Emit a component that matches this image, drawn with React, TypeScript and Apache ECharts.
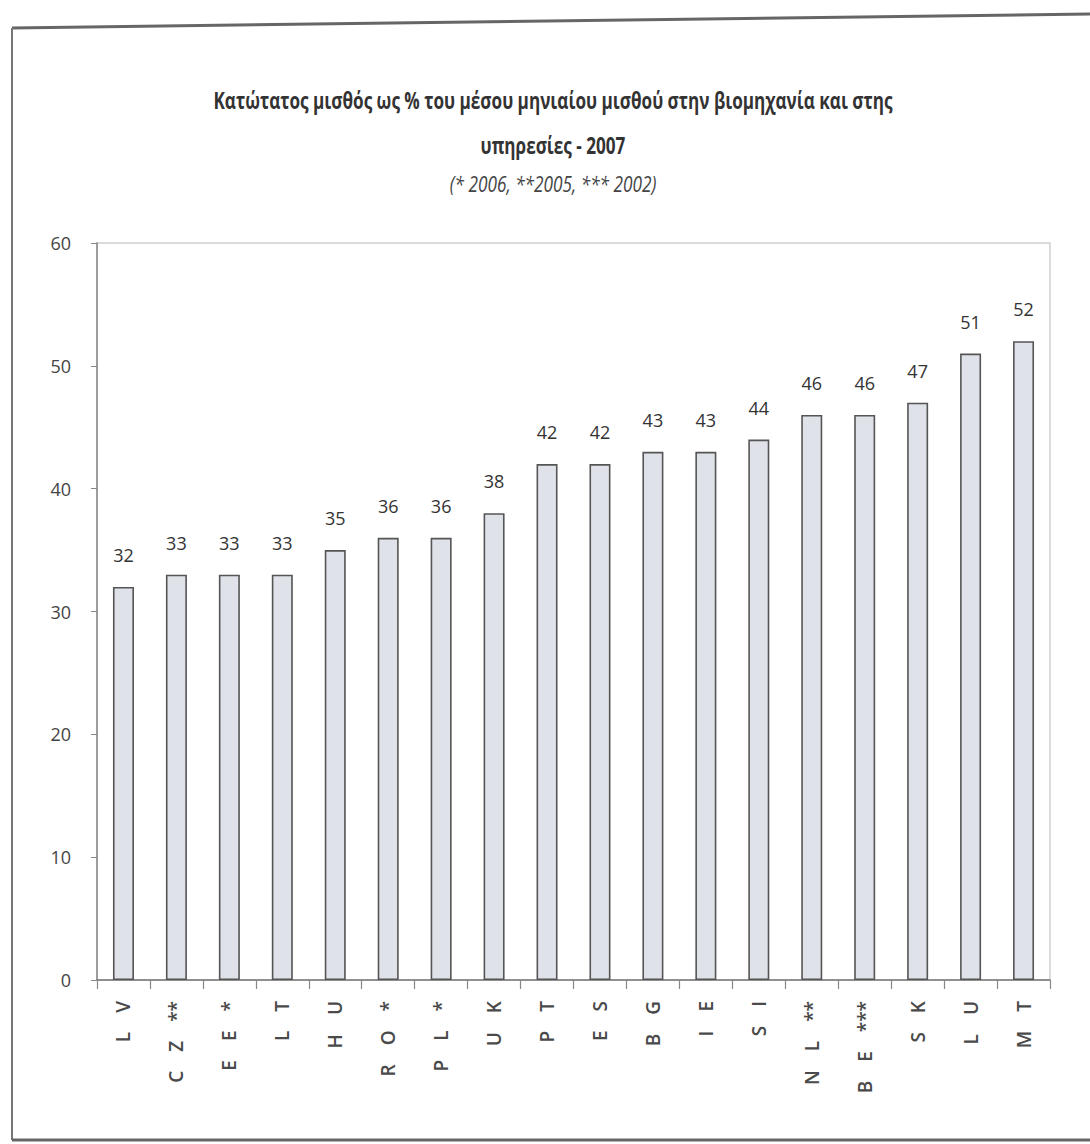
import React, { useEffect, useRef } from "react";
import * as echarts from "echarts";

// Minimum wage as % of average monthly earnings, 2007
const countries = [
  "L V", "C Z **", "E E *", "L T", "H U", "R O *", "P L *", "U K", "P T",
  "E S", "B G", "I E", "S I", "N L **", "B E ***", "S K", "L U", "M T",
];
const shares = [32, 33, 33, 33, 35, 36, 36, 38, 42, 42, 43, 43, 44, 46, 46, 47, 51, 52];
const yTicks = { min: 0, max: 60, interval: 10 };

const titleLines = [
  "Κατώτατος μισθός ως % του μέσου μηνιαίου μισθού στην βιομηχανία και στης",
  "υπηρεσίες - 2007",
];
const noteLine = "(* 2006, **2005, *** 2002)";

const SANS = "'Open Sans', 'Noto Sans', sans-serif";

// widen the gaps between the spaced-out country codes
const spaced = (s: string) => s.replace(/ /g, "\u2003");

export default function App() {
  const ref = useRef<HTMLDivElement>(null);

  useEffect(() => {
    document.body.style.margin = "0";
    if (!ref.current) return;
    const chart = echarts.init(ref.current, null, { renderer: "svg" });

    // condensed-looking heading: bold text squeezed horizontally
    const heading = [
      ...titleLines.map((line, i) => ({
        type: "text",
        x: 553,
        y: 100 + i * 45,
        scaleX: 0.745,
        style: {
          text: line,
          textAlign: "center",
          textVerticalAlign: "middle",
          font: `bold 23px ${SANS}`,
          fill: "#333",
        },
      })),
      {
        type: "text",
        x: 553,
        y: 184,
        scaleX: 0.82,
        style: {
          text: noteLine,
          textAlign: "center",
          textVerticalAlign: "middle",
          font: `italic 21px ${SANS}`,
          fill: "#444",
        },
      },
    ];

    chart.setOption({
      animation: false,
      backgroundColor: "#ffffff",
      grid: {
        left: 97,
        right: 40,
        top: 243,
        bottom: 164,
        show: true,
        borderColor: "#cfcfcf",
        borderWidth: 1.5,
      },
      xAxis: {
        type: "category",
        data: countries,
        axisLine: { lineStyle: { color: "#777", width: 1.5 } },
        axisTick: { show: true, length: 9, lineStyle: { color: "#888", width: 1.2 } },
        axisLabel: {
          rotate: 90,
          margin: 21,
          formatter: spaced,
          fontFamily: SANS,
          fontSize: 19,
          fontWeight: 600,
          color: "#4a4a4a",
        },
      },
      yAxis: {
        type: "value",
        min: yTicks.min,
        max: yTicks.max,
        interval: yTicks.interval,
        axisLine: { show: true, lineStyle: { color: "#888", width: 1.5 } },
        axisTick: { show: true, length: 6, lineStyle: { color: "#888" } },
        splitLine: { show: false },
        axisLabel: {
          margin: 26,
          fontFamily: SANS,
          fontSize: 18,
          color: "#444",
        },
      },
      series: [
        {
          type: "bar",
          data: shares,
          barWidth: 21,
          itemStyle: {
            color: "#dfe2e9",
            borderColor: "#555",
            borderWidth: 1.6,
          },
          label: {
            show: true,
            position: "top",
            distance: 23,
            fontFamily: SANS,
            fontSize: 18,
            color: "#333",
          },
        },
      ],
      graphic: [
        ...heading,
        {
          type: "line",
          shape: { x1: 12, y1: 28, x2: 1090, y2: 14 },
          style: { stroke: "#666", lineWidth: 3 },
        },
        {
          type: "line",
          shape: { x1: 12, y1: 28, x2: 12, y2: 1140 },
          style: { stroke: "#777", lineWidth: 2 },
        },
        {
          type: "line",
          shape: { x1: 12, y1: 1140, x2: 1090, y2: 1140 },
          style: { stroke: "#666", lineWidth: 3 },
        },
      ],
    });
    return () => chart.dispose();
  }, []);

  return <div ref={ref} style={{ width: 1090, height: 1144 }} />;
}
